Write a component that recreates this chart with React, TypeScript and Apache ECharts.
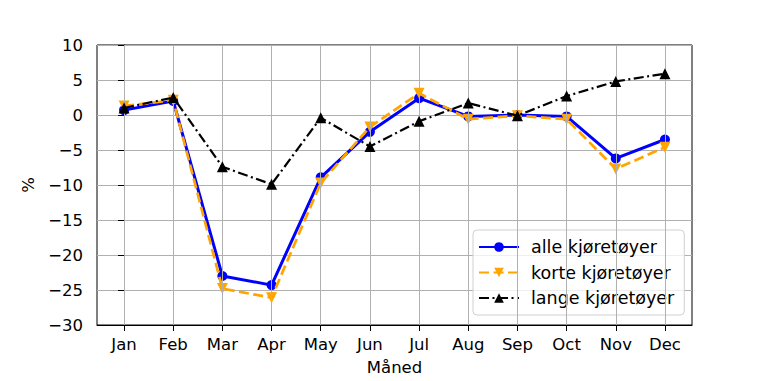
import React, { useEffect, useRef } from "react";
import * as echarts from "echarts";

const months = ["Jan", "Feb", "Mar", "Apr", "May", "Jun", "Jul", "Aug", "Sep", "Oct", "Nov", "Dec"];
const alle = [0.7, 2.0, -23.0, -24.3, -8.9, -2.4, 2.4, -0.2, 0.0, -0.2, -6.2, -3.5];
const korte = [1.3, 2.1, -24.8, -26.1, -9.7, -1.7, 3.1, -0.6, -0.1, -0.6, -7.7, -4.6];
const lange = [1.0, 2.5, -7.4, -9.9, -0.4, -4.5, -0.9, 1.7, -0.1, 2.7, 4.8, 5.9];
const yTicks = [-30, -25, -20, -15, -10, -5, 0, 5, 10];

const FONT = "DejaVu Sans";
const TICK_FS = 16.5;
const LEG_FS = 17.5;

function fmtY(v: number) {
  return v < 0 ? "\u2212" + Math.abs(v) : String(v);
}

export default function App() {
  const ref = useRef<HTMLDivElement>(null);
  useEffect(() => {
    if (!ref.current) return;
    const chart = echarts.init(ref.current, null, { renderer: "svg" });
    const idx = months.map((_, i) => i);
    const toPairs = (arr: number[]) => arr.map((v, i) => [i, v]);
    chart.setOption({
      animation: false,
      textStyle: { fontFamily: FONT },
      grid: {
        left: 97,
        top: 45,
        right: 76,
        bottom: 56,
        show: true,
        borderColor: "#000",
        borderWidth: 1,
        backgroundColor: "transparent",
      },
      xAxis: {
        type: "value",
        min: -0.55,
        max: 11.55,
        name: "Måned",
        nameLocation: "middle",
        nameGap: 34,
        nameTextStyle: { fontSize: TICK_FS, color: "#000", fontFamily: FONT },
        axisLine: { show: true, onZero: false, lineStyle: { color: "#000" } },
        axisTick: { show: true, length: 6, customValues: idx, lineStyle: { color: "#000" } },
        axisLabel: {
          customValues: idx,
          fontSize: TICK_FS,
          color: "#000",
          margin: 11,
          fontFamily: FONT,
          formatter: (v: number) => months[Math.round(v)] ?? "",
        },
        splitLine: { show: false },
      },
      yAxis: {
        type: "value",
        min: yTicks[0],
        max: yTicks[yTicks.length - 1],
        interval: 5,
        name: "%",
        nameLocation: "middle",
        nameRotate: 90,
        nameGap: 60,
        nameTextStyle: { fontSize: TICK_FS, color: "#000", fontFamily: FONT },
        axisLine: { show: true, lineStyle: { color: "#000" } },
        axisTick: { show: true, length: 6, lineStyle: { color: "#000" } },
        axisLabel: { fontSize: TICK_FS, color: "#000", margin: 14, fontFamily: FONT, formatter: fmtY },
        splitLine: { show: true, lineStyle: { color: "#b0b0b0", width: 1 } },
      },
      legend: {
        left: 473,
        top: 230,
        orient: "vertical",
        itemWidth: 40,
        itemHeight: 12,
        itemGap: 7.5,
        padding: [8, 10, 8, 5],
        backgroundColor: "rgba(255,255,255,0.8)",
        borderColor: "#d0d0d0",
        borderWidth: 1,
        borderRadius: 4,
        textStyle: { fontSize: LEG_FS, color: "#000", fontFamily: FONT, padding: [0, 0, 0, 7] },
        data: ["alle kjøretøyer", "korte kjøretøyer", "lange kjøretøyer"],
      },
      series: [
        {
          type: "line",
          name: "grid",
          data: [],
          silent: true,
          z: 1,
          markLine: {
            silent: true,
            symbol: "none",
            label: { show: false },
            lineStyle: { color: "#b0b0b0", width: 1, type: "solid" },
            data: idx.map((i) => ({ xAxis: i })),
          },
        },
        {
          type: "line",
          name: "alle kjøretøyer",
          data: toPairs(alle),
          z: 3,
          color: "#0000ff",
          symbol: "circle",
          symbolSize: 10,
          lineStyle: { color: "#0000ff", width: 3 },
          itemStyle: { color: "#0000ff" },
        },
        {
          type: "line",
          name: "korte kjøretøyer",
          data: toPairs(korte),
          z: 4,
          color: "#ffa500",
          symbol: "triangle",
          symbolRotate: 180,
          symbolSize: 11,
          lineStyle: { color: "#ffa500", width: 2.7, type: [10, 4.5] },
          itemStyle: { color: "#ffa500" },
        },
        {
          type: "line",
          name: "lange kjøretøyer",
          data: toPairs(lange),
          z: 5,
          color: "#000000",
          symbol: "triangle",
          symbolSize: 11,
          lineStyle: { color: "#000000", width: 2.2, type: [10, 3.5, 2, 3.5] },
          itemStyle: { color: "#000000" },
        },
      ],
    });
    return () => chart.dispose();
  }, []);
  return (
    <div
      ref={ref}
      style={{ position: "absolute", left: 0, top: 0, width: 768, height: 381, background: "#fff" }}
    />
  );
}
